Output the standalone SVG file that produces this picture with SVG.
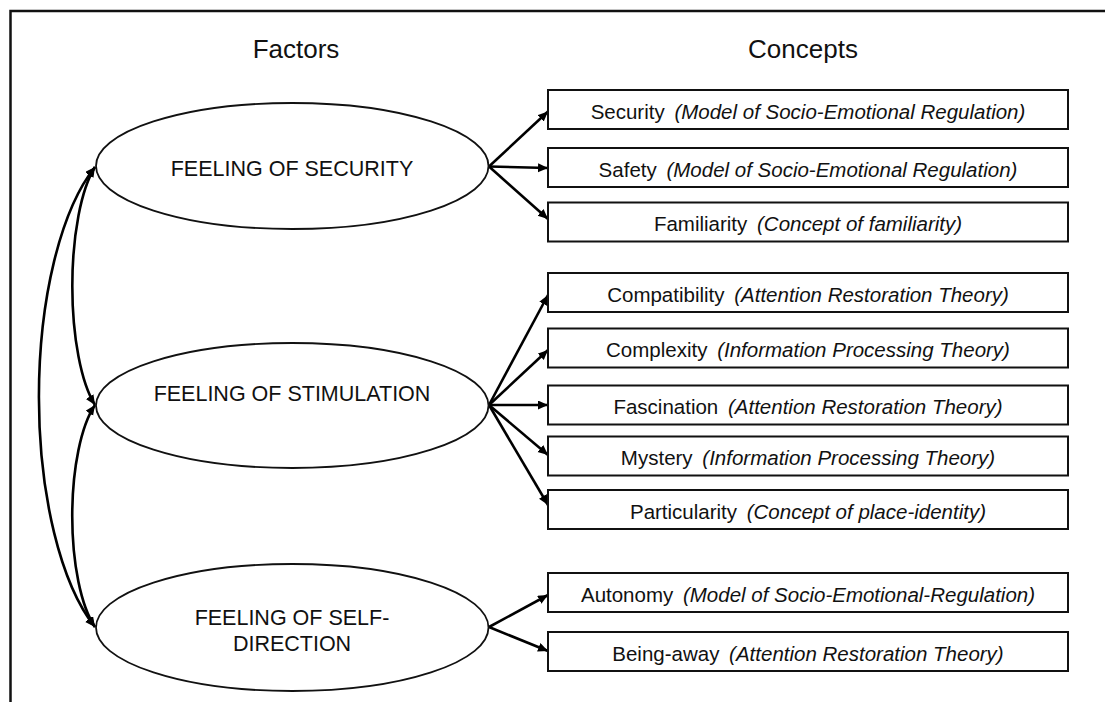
<svg xmlns="http://www.w3.org/2000/svg" width="1105" height="702" viewBox="0 0 1105 702">
<style>
.hdr{font-family:"Liberation Sans",Arial,sans-serif;font-size:26px;fill:#111;text-anchor:middle}
.etx{font-family:"Liberation Sans",Arial,sans-serif;font-size:21.5px;fill:#111;text-anchor:middle}
.btx{font-family:"Liberation Sans",Arial,sans-serif;font-size:20.5px;fill:#111;text-anchor:middle}
.btx tspan{font-style:italic}
.ell{fill:#fff;stroke:#111;stroke-width:1.8}
.box{fill:#fff;stroke:#111;stroke-width:2}
.con{fill:none;stroke:#000;stroke-width:2.6}
.frame{fill:none;stroke:#111;stroke-width:2.5}
</style>
<defs>
<marker id="ah" markerUnits="userSpaceOnUse" markerWidth="12" markerHeight="10" refX="10" refY="4.5" orient="auto-start-reverse" viewBox="0 0 12 10">
<path d="M0,0 L10,4.5 L0,9 z" fill="#000"/>
</marker>
</defs>
<rect width="1105" height="702" fill="#fff"/>
<path class="frame" d="M10.5 702 V11 H1105"/>
<text class="hdr" x="296" y="58">Factors</text>
<text class="hdr" x="803" y="58">Concepts</text>
<g id="connectors">
<path class="con" marker-start="url(#ah)" marker-end="url(#ah)" d="M95 167 A100 256 0 0 0 95 627"/>
<path class="con" marker-start="url(#ah)" marker-end="url(#ah)" d="M95 167 A40 132 0 0 0 95 405"/>
<path class="con" marker-start="url(#ah)" marker-end="url(#ah)" d="M95 405 A40 123 0 0 0 95 627"/>
<path class="con" marker-end="url(#ah)" d="M489 166.5 L548 111.5"/>
<path class="con" marker-end="url(#ah)" d="M489 166.5 L548 168"/>
<path class="con" marker-end="url(#ah)" d="M489 166.5 L548 219"/>
<path class="con" marker-end="url(#ah)" d="M489 405 L548 295"/>
<path class="con" marker-end="url(#ah)" d="M489 405 L548 350"/>
<path class="con" marker-end="url(#ah)" d="M489 405 L548 405"/>
<path class="con" marker-end="url(#ah)" d="M489 405 L548 455"/>
<path class="con" marker-end="url(#ah)" d="M489 405 L548 505"/>
<path class="con" marker-end="url(#ah)" d="M489 627 L548 595"/>
<path class="con" marker-end="url(#ah)" d="M489 627 L548 651"/>
</g>
<g id="f-security">
<ellipse class="ell" cx="292.25" cy="166" rx="196.25" ry="63"/>
<text class="etx" x="292" y="176">FEELING OF SECURITY</text>
</g>
<g id="f-stimulation">
<ellipse class="ell" cx="292.25" cy="405.5" rx="196.25" ry="62.5"/>
<text class="etx" x="292" y="401">FEELING OF STIMULATION</text>
</g>
<g id="f-selfdirection">
<ellipse class="ell" cx="292.25" cy="627.5" rx="196.25" ry="63.5"/>
<text class="etx" x="292" y="625">FEELING OF SELF-</text>
<text class="etx" x="292" y="651">DIRECTION</text>
</g>
<g id="c-security"><rect class="box" x="548" y="90" width="520" height="39"/><text class="btx" x="808" y="118.7">Security <tspan dx="4">(Model of Socio-Emotional Regulation)</tspan></text></g>
<g id="c-safety"><rect class="box" x="548" y="148" width="520" height="39"/><text class="btx" x="808" y="176.7">Safety <tspan dx="4">(Model of Socio-Emotional Regulation)</tspan></text></g>
<g id="c-familiarity"><rect class="box" x="548" y="202.5" width="520" height="39"/><text class="btx" x="808" y="231">Familiarity <tspan dx="4">(Concept of familiarity)</tspan></text></g>
<g id="c-compatibility"><rect class="box" x="548" y="273" width="520" height="39"/><text class="btx" x="808" y="301.7">Compatibility <tspan dx="4">(Attention Restoration Theory)</tspan></text></g>
<g id="c-complexity"><rect class="box" x="548" y="328.5" width="520" height="39"/><text class="btx" x="808" y="357.2">Complexity <tspan dx="4">(Information Processing Theory)</tspan></text></g>
<g id="c-fascination"><rect class="box" x="548" y="385.5" width="520" height="39"/><text class="btx" x="808" y="414.2">Fascination <tspan dx="4">(Attention Restoration Theory)</tspan></text></g>
<g id="c-mystery"><rect class="box" x="548" y="436.5" width="520" height="39"/><text class="btx" x="808" y="465.2">Mystery <tspan dx="4">(Information Processing Theory)</tspan></text></g>
<g id="c-particularity"><rect class="box" x="548" y="490" width="520" height="39"/><text class="btx" x="808" y="518.7">Particularity <tspan dx="4">(Concept of place-identity)</tspan></text></g>
<g id="c-autonomy"><rect class="box" x="548" y="573" width="520" height="39"/><text class="btx" x="808" y="601.7">Autonomy <tspan dx="4">(Model of Socio-Emotional-Regulation)</tspan></text></g>
<g id="c-beingaway"><rect class="box" x="548" y="632" width="520" height="39"/><text class="btx" x="808" y="660.7">Being-away <tspan dx="4">(Attention Restoration Theory)</tspan></text></g>
</svg>
